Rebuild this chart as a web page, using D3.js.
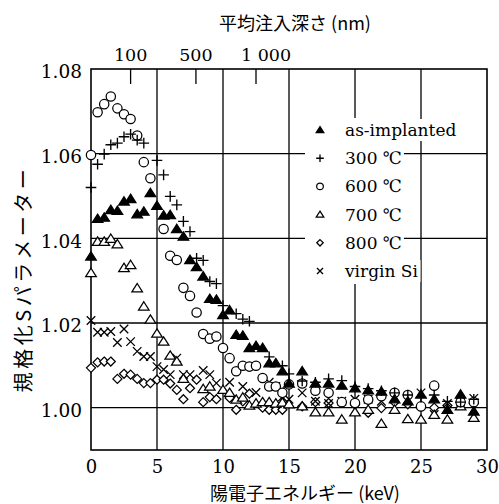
<!DOCTYPE html>
<html>
<head>
<meta charset="utf-8">
<script src="https://cdn.jsdelivr.net/npm/d3@7"></script>
<style>
  html, body { margin: 0; padding: 0; background: #fff; }
  svg text { fill: #000; }
</style>
</head>
<body>
<div id="chart"></div>
<script>
// energy (keV), normalized S parameter
const asImplanted = [[0,1.0357],[0.5,1.0446],[1.0,1.0449],[1.5,1.0467],[2.0,1.0465],[2.5,1.0487],[3.0,1.0493],[3.5,1.0457],[4.0,1.0463],[4.5,1.0507],[5.0,1.0477],[5.5,1.0454],[6.0,1.0455],[6.5,1.0422],[7.0,1.0404],[7.5,1.0349],[8.0,1.0332],[8.5,1.0310],[9.0,1.0257],[9.5,1.0255],[10.0,1.0219],[10.5,1.0230],[11.0,1.0172],[11.5,1.0170],[12.0,1.0141],[12.5,1.0146],[13.0,1.0141],[13.5,1.0105],[14.0,1.0105],[14.5,1.0086],[15,1.0057],[16,1.0086],[17,1.0057],[18,1.0057],[19,1.0052],[20,1.0046],[21,1.0041],[22,1.0038],[23,1.0020],[24,1.0015],[25,1.0031],[26,1.0020],[27,0.9995],[28,1.0031],[29,0.9991]];
const ann300 = [[0,1.0520],[0.5,1.0575],[1.0,1.0599],[1.5,1.0621],[2.0,1.0625],[2.5,1.0640],[3.0,1.0646],[3.5,1.0632],[4.0,1.0625],[5.0,1.0584],[5.5,1.0550],[6.0,1.0499],[6.5,1.0479],[7.0,1.0440],[7.5,1.0416],[8.0,1.0353],[8.5,1.0348],[9.0,1.0298],[9.5,1.0293],[10.0,1.0241],[11.0,1.0222],[11.5,1.0209],[12.0,1.0204],[13.5,1.0120],[14.5,1.0099],[15,1.0080],[16,1.0063],[17,1.0060],[18,1.0068],[19,1.0064],[20,1.0050],[21,1.0045],[22,1.0040],[23,1.0035],[24,1.0030],[25,1.0025],[26,1.0030],[27,1.0015],[28,1.0013],[29,1.0020]];
const ann600 = [[0,1.0597],[0.5,1.0698],[1.0,1.0717],[1.5,1.0735],[2.0,1.0707],[2.5,1.0693],[3.0,1.0682],[3.5,1.0643],[4.0,1.0580],[4.5,1.0542],[5.5,1.0422],[6.0,1.0359],[6.5,1.0349],[7.0,1.0283],[7.5,1.0264],[8.0,1.0225],[8.5,1.0174],[9.0,1.0163],[9.5,1.0168],[10.0,1.0141],[10.5,1.0117],[11.0,1.0086],[11.5,1.0099],[12.0,1.0097],[12.5,1.0099],[13.0,1.0070],[13.5,1.0050],[14.0,1.0050],[14.5,1.0035],[15,1.0055],[16,1.0057],[17,1.0040],[18,1.0035],[19,1.0013],[20,1.0011],[21,1.0019],[22,1.0027],[23,1.0035],[24,1.0030],[25,1.0003],[26,1.0052],[28,1.0013],[29,1.0013]];
const ann700 = [[0,1.0318],[0.5,1.0392],[1.0,1.0392],[1.5,1.0399],[2.0,1.0386],[2.5,1.0330],[3.0,1.0337],[3.5,1.0282],[4.0,1.0239],[4.5,1.0208],[5.0,1.0175],[5.5,1.0156],[6.0,1.0123],[6.5,1.0109],[7.0,1.0068],[8.5,1.0044],[9.0,1.0050],[10.0,1.0042],[10.5,1.0035],[11.0,1.0019],[11.5,1.0024],[12.0,1.0005],[12.5,1.0010],[13.0,1.0013],[13.5,1.0013],[14.0,1.0010],[14.5,1.0012],[15,1.0008],[16,1.0003],[17,0.9989],[18,0.9989],[19,0.9972],[20,0.9989],[21,0.9995],[22,0.9962],[23,0.9995],[24,0.9973],[25,0.9972],[26,0.9983],[27,0.9972],[28,1.0003],[29,0.9976]];
const ann800 = [[0,1.0094],[0.5,1.0107],[1.0,1.0109],[1.5,1.0109],[2.0,1.0068],[2.5,1.0080],[3.0,1.0078],[3.5,1.0068],[4.0,1.0058],[4.5,1.0058],[5.0,1.0066],[5.5,1.0066],[6.0,1.0057],[6.5,1.0042],[7.0,1.0020],[7.5,1.0046],[8.0,1.0066],[8.5,1.0013],[9.0,1.0025],[9.5,1.0020],[10.5,1.0023],[11.0,0.9995],[11.5,1.0015],[12.0,1.0033],[13.0,1.0000],[13.5,0.9995],[14.0,0.9995],[14.5,0.9995],[16,1.0003],[17,1.0013],[18,1.0011],[19,1.0013],[20,1.0007],[21,0.9988],[22,0.9999],[23,1.0013],[24,1.0008],[25,1.0003],[26,1.0000],[27,1.0005],[28,1.0013],[29,1.0010]];
const virginSi = [[0,1.0206],[0.5,1.0178],[1.0,1.0178],[1.5,1.0180],[2.0,1.0154],[2.5,1.0186],[3.0,1.0156],[3.5,1.0133],[4.0,1.0121],[4.5,1.0121],[5.0,1.0097],[5.5,1.0090],[6.0,1.0078],[6.5,1.0117],[7.0,1.0078],[7.5,1.0078],[8.5,1.0088],[9.0,1.0078],[9.5,1.0058],[10.5,1.0060],[11.5,1.0050],[12.5,1.0036],[13.5,1.0060],[14.0,1.0050],[14.5,1.0025],[15,1.0020],[16,1.0035],[17,1.0015],[18,1.0010],[19,1.0015],[20,1.0020],[21,1.0020],[22,1.0015],[23,1.0025],[24,1.0020],[25,1.0035],[26,0.9984],[27,1.0010],[28,1.0013],[29,1.0022]];

const legendLabels = ['as-implanted', '300 ℃', '600 ℃', '700 ℃', '800 ℃', 'virgin Si'];
const xTicks = [0, 5, 10, 15, 20, 25, 30];
const yTicks = [1.00, 1.02, 1.04, 1.06, 1.08];
// mean implantation depth (nm) and the positron energy (keV) it corresponds to
const depthLabels = ['100', '500', '1 000'];
const depthKeV = [3.0, 7.95, 12.5];

const W = 499, H = 504;
const serif = '"DejaVu Serif", "Liberation Serif", serif';
const jp = '"Noto Sans CJK JP", sans-serif';

const x = d3.scaleLinear().domain([0, 30]).range([91, 487]);
const y = d3.scaleLinear().domain([0.99, 1.08]).range([450, 69]);

const svg = d3.select('#chart').append('svg')
  .attr('width', W).attr('height', H)
  .style('background', '#fff');

// grid
svg.append('g').selectAll('line')
  .data(xTicks.slice(1, -1)).enter().append('line')
  .attr('x1', d => x(d)).attr('x2', d => x(d))
  .attr('y1', y(1.08)).attr('y2', y(0.99))
  .attr('stroke', '#000').attr('stroke-width', 1.3);
svg.append('g').selectAll('line')
  .data(yTicks.slice(0, -1)).enter().append('line')
  .attr('x1', x(0)).attr('x2', x(30))
  .attr('y1', d => y(d)).attr('y2', d => y(d))
  .attr('stroke', '#000').attr('stroke-width', 1.3);

// frame
svg.append('rect')
  .attr('x', x(0)).attr('y', y(1.08))
  .attr('width', x(30) - x(0)).attr('height', y(0.99) - y(1.08))
  .attr('fill', 'none').attr('stroke', '#000').attr('stroke-width', 1.6);

// bottom axis labels
const xAxis = svg.append('g')
  .attr('transform', `translate(0,${y(0.99)})`)
  .call(d3.axisBottom(x).tickValues(xTicks).tickSize(0).tickPadding(10).tickFormat(d3.format('d')));
xAxis.select('.domain').remove();
xAxis.selectAll('text').style('font-family', serif).style('font-size', '18px');

// left axis labels
const yAxis = svg.append('g')
  .attr('transform', `translate(${x(0)},3)`)
  .call(d3.axisLeft(y).tickValues(yTicks).tickSize(0).tickPadding(9).tickFormat(d3.format('.2f')));
yAxis.select('.domain').remove();
yAxis.selectAll('text').style('font-family', serif).style('font-size', '18.5px');

// top depth axis
svg.append('g').selectAll('line')
  .data(depthKeV).enter().append('line')
  .attr('x1', d => x(d)).attr('x2', d => x(d))
  .attr('y1', y(1.08)).attr('y2', y(1.08) + 15)
  .attr('stroke', '#000').attr('stroke-width', 1.3);
svg.append('g').selectAll('text')
  .data(depthKeV).enter().append('text')
  .attr('x', (d, i) => x(d) + (i === 2 ? 10 : 0))
  .attr('y', 61)
  .attr('text-anchor', 'middle')
  .style('font-family', serif).style('font-size', '17.5px')
  .text((d, i) => depthLabels[i]);

svg.append('text')
  .attr('x', 295).attr('y', 30)
  .attr('text-anchor', 'middle')
  .style('font-family', jp).style('font-size', '18px')
  .text('平均注入深さ (nm)');

svg.append('text')
  .attr('x', 305).attr('y', 500)
  .attr('text-anchor', 'middle')
  .style('font-family', jp).style('font-size', '18px')
  .text('陽電子エネルギー (keV)');

svg.append('text')
  .attr('transform', 'translate(22,279) rotate(-90)')
  .attr('text-anchor', 'middle')
  .attr('dominant-baseline', 'central')
  .style('font-family', jp).style('font-size', '20px')
  .attr('letter-spacing', 3.5)
  .text('規格化Sパラメーター');

// marker shapes
function marker(g, type, s) {
  const h = s * 0.9;
  if (type === 'triFill' || type === 'tri') {
    g.append('path')
      .attr('d', `M0,${-h}L${s},${h * 0.75}L${-s},${h * 0.75}Z`)
      .attr('fill', type === 'triFill' ? '#000' : '#fff')
      .attr('stroke', '#000').attr('stroke-width', 1.25);
  } else if (type === 'plus') {
    g.append('path')
      .attr('d', `M${-s},0H${s}M0,${-s}V${s}`)
      .attr('stroke', '#000').attr('stroke-width', 1.35);
  } else if (type === 'circle') {
    g.append('circle').attr('r', s * 0.88)
      .attr('fill', '#fff').attr('stroke', '#000').attr('stroke-width', 1.25);
  } else if (type === 'diamond') {
    g.append('path')
      .attr('d', `M0,${-s * 0.85}L${s * 0.85},0L0,${s * 0.85}L${-s * 0.85},0Z`)
      .attr('fill', '#fff').attr('stroke', '#000').attr('stroke-width', 1.25);
  } else if (type === 'cross') {
    const c = s * 0.8;
    g.append('path')
      .attr('d', `M${-c},${-c}L${c},${c}M${-c},${c}L${c},${-c}`)
      .attr('stroke', '#000').attr('stroke-width', 1.3);
  }
}

const series = [
  { data: ann800, type: 'diamond' },
  { data: virginSi, type: 'cross' },
  { data: ann700, type: 'tri' },
  { data: ann600, type: 'circle' },
  { data: ann300, type: 'plus' },
  { data: asImplanted, type: 'triFill' }
];
const legendTypes = ['triFill', 'plus', 'circle', 'tri', 'diamond', 'cross'];

// legend (white backing hides the grid behind it)
const legend = svg.append('g');
legend.append('rect')
  .attr('x', 305).attr('y', 118).attr('width', 97).attr('height', 166)
  .attr('fill', '#fff');
const rows = legend.selectAll('g.row')
  .data(legendLabels).enter().append('g')
  .attr('class', 'row')
  .attr('transform', (d, i) => `translate(0,${130 + i * 28.2})`);
rows.each(function (d, i) {
  const g = d3.select(this);
  const t = g.append('text')
    .attr('x', 345).attr('y', 0)
    .attr('dominant-baseline', 'central')
    .style('font-family', serif).style('font-size', '17px')
    .text(d);
  const b = t.node().getBBox();
  g.insert('rect', 'text')
    .attr('x', b.x - 2).attr('y', b.y - 1)
    .attr('width', b.width + 4).attr('height', b.height + 2)
    .attr('fill', '#fff');
  marker(g.append('g').attr('transform', 'translate(320,0)'), legendTypes[i], 3.8);
});

// data points
series.forEach(s => {
  svg.append('g').selectAll('g')
    .data(s.data).enter().append('g')
    .attr('transform', d => `translate(${x(d[0])},${y(d[1])})`)
    .each(function () { marker(d3.select(this), s.type, 5.3); });
});
</script>
</body>
</html>
